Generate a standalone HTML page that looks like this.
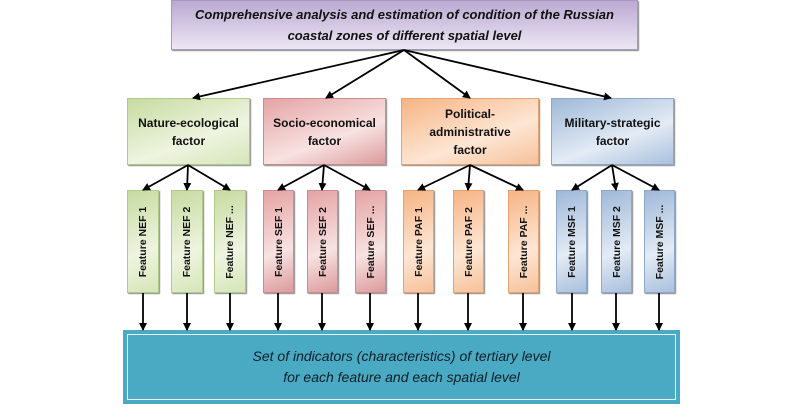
<!DOCTYPE html>
<html><head><meta charset="utf-8"><style>
body{margin:0;width:800px;height:417px;background:#fff;position:relative;overflow:hidden;font-family:"Liberation Sans",sans-serif}
.b{position:absolute;box-sizing:border-box;display:flex;align-items:center;justify-content:center;text-align:center;font-weight:bold;font-size:12px;color:#111;line-height:18px;box-shadow:1px 1px 1px #888}
.f{position:absolute;box-sizing:border-box;box-shadow:1px 1px 1px #888}
.f span{position:absolute;left:50%;top:50%;transform:translate(-50%,-50%) rotate(-90deg);white-space:nowrap;font-size:10.5px;font-weight:bold;color:#111}
.g{background:linear-gradient(160deg,#c7dba0,#eef4e0 60%,#d6e6b8);border:1px solid #b3c98a}
.r{background:linear-gradient(160deg,#e5a3a4,#f8e2e2 60%,#dc9a9b);border:1px solid #cc8b8c}
.o{background:linear-gradient(160deg,#f6b484,#fde6d4 60%,#f6c19a);border:1px solid #e6a26f}
.u{background:linear-gradient(160deg,#9fb8d8,#e3ebf5 60%,#a8c0dd);border:1px solid #8ea8c9}
</style></head><body>
<div class="b" style="left:171px;top:0;width:467px;height:50px;background:linear-gradient(180deg,#bba9d2,#ece6f3);border:1px solid #a898c0;font-style:italic;font-size:13px;line-height:21px">Comprehensive analysis and estimation of condition of the Russian<br>coastal zones of different spatial level</div>
<div class="b g" style="left:127px;top:98px;width:123px;height:67px">Nature-ecological<br>factor</div>
<div class="b r" style="left:263px;top:98px;width:123px;height:67px">Socio-economical<br>factor</div>
<div class="b o" style="left:401px;top:98px;width:138px;height:67px">Political-<br>administrative<br>factor</div>
<div class="b u" style="left:551px;top:98px;width:123px;height:67px">Military-strategic<br>factor</div>
<div class="f g" style="left:127px;top:190px;width:32px;height:103px"><span>Feature NEF 1</span></div>
<div class="f g" style="left:171px;top:190px;width:32px;height:103px"><span>Feature NEF 2</span></div>
<div class="f g" style="left:214px;top:190px;width:32px;height:103px"><span>Feature NEF ...</span></div>
<div class="f r" style="left:263px;top:190px;width:31px;height:103px"><span>Feature SEF 1</span></div>
<div class="f r" style="left:307px;top:190px;width:31px;height:103px"><span>Feature SEF 2</span></div>
<div class="f r" style="left:355px;top:190px;width:31px;height:103px"><span>Feature SEF ...</span></div>
<div class="f o" style="left:403px;top:190px;width:31px;height:103px"><span>Feature PAF 1</span></div>
<div class="f o" style="left:453px;top:190px;width:31px;height:103px"><span>Feature PAF 2</span></div>
<div class="f o" style="left:508px;top:190px;width:31px;height:103px"><span>Feature PAF ...</span></div>
<div class="f u" style="left:556px;top:190px;width:31px;height:103px"><span>Feature MSF 1</span></div>
<div class="f u" style="left:601px;top:190px;width:31px;height:103px"><span>Feature MSF 2</span></div>
<div class="f u" style="left:644px;top:190px;width:31px;height:103px"><span>Feature MSF ...</span></div>
<div style="position:absolute;left:123px;top:330px;width:557px;height:74px;background:#4aaac4;box-sizing:border-box;padding:4px"><div style="border:1.5px solid #e8f4f8;height:100%;box-sizing:border-box;display:flex;align-items:center;justify-content:center;text-align:center;font-style:italic;font-size:14px;line-height:21px;color:#0f1e26">Set of indicators (characteristics) of tertiary level<br>for each feature and each spatial level</div></div>
<svg width="800" height="417" style="position:absolute;left:0;top:0">
<defs><marker id="a" markerWidth="8" markerHeight="8" refX="7" refY="4" orient="auto" markerUnits="userSpaceOnUse"><path d="M0,0L8,4L0,8z" fill="#000"/></marker></defs>
<g stroke="#000" stroke-width="1.8" marker-end="url(#a)">
<line x1="404" y1="50" x2="193" y2="98"/><line x1="404" y1="50" x2="326" y2="98"/><line x1="404" y1="50" x2="470" y2="98"/><line x1="404" y1="50" x2="611" y2="98"/>
<line x1="188" y1="165" x2="143" y2="190"/><line x1="188" y1="165" x2="187" y2="190"/><line x1="188" y1="165" x2="230" y2="190"/>
<line x1="324" y1="165" x2="278" y2="190"/><line x1="324" y1="165" x2="322" y2="190"/><line x1="324" y1="165" x2="370" y2="190"/>
<line x1="470" y1="165" x2="418" y2="190"/><line x1="470" y1="165" x2="468" y2="190"/><line x1="470" y1="165" x2="523" y2="190"/>
<line x1="612" y1="165" x2="572" y2="190"/><line x1="612" y1="165" x2="616" y2="190"/><line x1="612" y1="165" x2="659" y2="190"/>
<line x1="143" y1="293" x2="143" y2="330"/><line x1="187" y1="293" x2="187" y2="330"/><line x1="230" y1="293" x2="230" y2="330"/>
<line x1="278" y1="293" x2="278" y2="330"/><line x1="322" y1="293" x2="322" y2="330"/><line x1="370" y1="293" x2="370" y2="330"/>
<line x1="418" y1="293" x2="418" y2="330"/><line x1="468" y1="293" x2="468" y2="330"/><line x1="523" y1="293" x2="523" y2="330"/>
<line x1="572" y1="293" x2="572" y2="330"/><line x1="616" y1="293" x2="616" y2="330"/><line x1="659" y1="293" x2="659" y2="330"/>
</g></svg>
</body></html>
